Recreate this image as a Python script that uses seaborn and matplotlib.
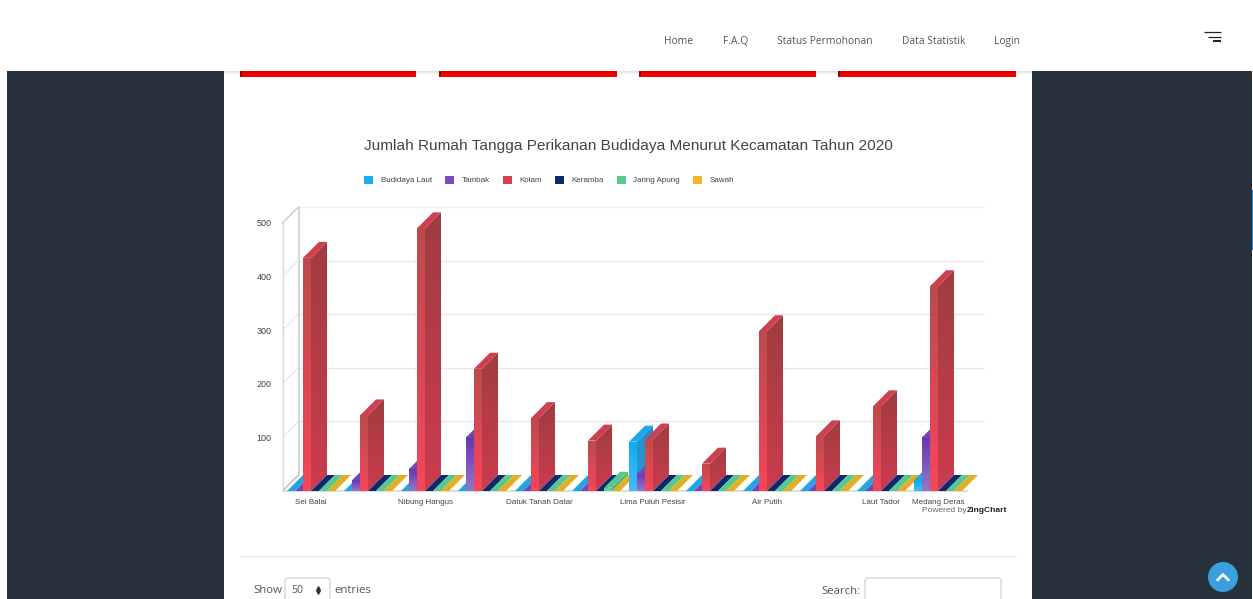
import numpy as np
import pandas as pd
import matplotlib
matplotlib.use('Agg')
import matplotlib.pyplot as plt
from matplotlib.colors import to_rgb
from matplotlib.patches import Polygon, Rectangle, Circle, FancyBboxPatch
import seaborn as sns

# data
kecamatan = list(range(12))
tick_labels = ['Sei Balai', '', 'Nibung Hangus', '', 'Datuk Tanah Datar', '',
               'Lima Puluh Pesisir', '', 'Air Putih', '', 'Laut Tador', 'Medang Deras']
budidaya_laut = [0, 0, 0, 0, 0, 0, 92, 0, 0, 0, 0, 20]
tambak = [0, 20, 41, 100, 0, 0, 32, 0, 0, 0, 0, 100]
kolam = [435, 141, 490, 228, 136, 94, 96, 51, 298, 102, 158, 382]
keramba = [0, 0, 0, 0, 0, 0, 0, 0, 0, 0, 0, 0]
jaring_apung = [0, 0, 0, 0, 0, 6, 0, 0, 0, 0, 0, 0]
sawah = [0, 0, 0, 0, 0, 0, 0, 0, 0, 0, 0, 0]
series_names = ['Budidaya Laut', 'Tambak', 'Kolam', 'Keramba', 'Jaring Apung', 'Sawah']
series_values = [budidaya_laut, tambak, kolam, keramba, jaring_apung, sawah]
y_ticks = [100, 200, 300, 400, 500]

# legend colour, front top, front bottom, side top, side bottom, top face
colors = {
    'Budidaya Laut': ['#19aeef', '#0fa9f2', '#45bcf2', '#1f8fcb', '#23a0dc', '#1ea6e6'],
    'Tambak': ['#7a4cc0', '#6438b4', '#9476c8', '#52308f', '#6a4aa8', '#7446b6'],
    'Kolam': ['#d9404f', '#bb4b4c', '#f4465c', '#a03d41', '#cc3b4e', '#cf3f50'],
    'Keramba': ['#0b2a6e', '#0b2a6e', '#0b2a6e', '#0a2560', '#0a2560', '#0b2a6e'],
    'Jaring Apung': ['#55cb92', '#4cc98d', '#6ad6a0', '#45ad7c', '#45ad7c', '#58c890'],
    'Sawah': ['#f5b52a', '#e3ae20', '#e8b838', '#c99a1c', '#c99a1c', '#e3ae20'],
}

sns.set_theme(style='white')
plt.rcParams['font.family'] = ['Liberation Sans', 'DejaVu Sans']

W, H = 1253, 599
fig = plt.figure(figsize=(W / 100, H / 100), dpi=100, facecolor='white')

# the web page around the chart, in pixels
page = fig.add_axes([0, 0, 1, 1], zorder=0)
page.set_xlim(0, W)
page.set_ylim(H, 0)
page.axis('off')
page.add_patch(Rectangle((7, 71), 1245, H - 71, color='#27313b', lw=0))
page.add_patch(Rectangle((224, 71), 808, H - 71, color='white', lw=0))
page.add_patch(Rectangle((1252, 190), 1, 60, color='#2f7fd0', lw=0))
for y, a in zip([71, 72, 73], [0.10, 0.06, 0.03]):
    page.plot([224, 1032], [y, y], color='black', alpha=a, lw=1)
for x0, x1 in [(240, 416), (439, 617), (639, 816), (838, 1016)]:
    page.add_patch(Rectangle((x0, 71), x1 - x0, 5.5, color='#fa0000', lw=0))
    page.add_patch(Rectangle((x0, 71), 1.5, 5.5, color='#8a0a0a', lw=0))
page.plot([240, 1016], [555.5, 555.5], color='#e6e6e6', lw=1)

nav_font = ['Open Sans', 'DejaVu Sans']
for label, x in [('Home', 664), ('F.A.Q', 723), ('Status Permohonan', 777),
                 ('Data Statistik', 902), ('Login', 994)]:
    page.text(x, 44, label, fontsize=7.4, color='#555555', family=nav_font, va='baseline')
for x0, y, lw in [(1204, 32, 0.9), (1208, 36.5, 0.9), (1213, 41, 1.5)]:
    page.plot([x0, 1221], [y, y], color='#222222', lw=lw, solid_capstyle='butt')

page.text(253.5, 593, 'Show', fontsize=8.2, color='#555555', family=nav_font, va='baseline')
page.add_patch(FancyBboxPatch((285, 578), 45, 32, boxstyle='round,pad=0,rounding_size=3',
                              fc='white', ec='#cccccc', lw=0.8))
page.text(291, 593, '50', fontsize=7.6, color='#555555', family=nav_font, va='baseline')
page.plot([318], [587.5], marker='^', ms=2.6, color='#333333', lw=0)
page.plot([318], [591.5], marker='v', ms=2.6, color='#333333', lw=0)
page.text(334, 593, 'entries', fontsize=8.2, color='#555555', family=nav_font, va='baseline')
page.text(821.5, 594, 'Search:', fontsize=8.2, color='#555555', family=nav_font, va='baseline')
page.add_patch(FancyBboxPatch((865, 578), 136, 32, boxstyle='round,pad=0,rounding_size=3',
                              fc='white', ec='#cccccc', lw=0.8))
page.add_patch(Circle((1223, 577), 15, color='#3a9fdd', lw=0))
page.plot([1217.5, 1223, 1228.5], [580, 574.5, 580], color='white', lw=2.0)

page.text(628, 146, 'Jumlah Rumah Tangga Perikanan Budidaya Menurut Kecamatan Tahun 2020',
          fontsize=11.07, color='#444444', ha='center', va='center')
page.text(1007, 510, 'ZingChart', fontsize=6.0, color='#222222', fontweight='bold',
          ha='right', va='center')
page.text(966.5, 510, 'Powered by', fontsize=6.0, color='#666666', ha='right', va='center')

# chart axes: floor front is y=491, category spacing 57 px, depth 16 px
left, right, bottom, top = 282.5, 984, 491, 207
px_per_cat = 57
px_per_unit = 0.536
dx = 16 / px_per_cat
dy = 16 / px_per_unit
ax = fig.add_axes([left / W, (H - bottom) / H, (right - left) / W, (bottom - top) / H], zorder=1)
ax.patch.set_alpha(0)

df = pd.DataFrame({'kecamatan': kecamatan * 6,
                   'seri': np.repeat(series_names, 12),
                   'nilai': np.concatenate(series_values)})
sns.barplot(data=df, x='kecamatan', y='nilai', hue='seri', hue_order=series_names,
            order=kecamatan, palette=[colors[s][0] for s in series_names],
            width=48 / 57, gap=0, legend=False, ax=ax, linewidth=0, errorbar=None)
xlim = (-0.5, -0.5 + (right - left) / px_per_cat)
ylim = (0, (bottom - top) / px_per_unit)

# back wall and floor
for v in y_ticks:
    c = '#f2f2f2' if v == 500 else '#e8e8e8'
    ax.plot([xlim[0] + dx, xlim[1]], [v + dy, v + dy], color=c, lw=1, zorder=1, clip_on=False)
    ax.plot([xlim[0], xlim[0] + dx], [v, v + dy], color='#e8e8e8', lw=1, zorder=1)
ax.plot([xlim[0], xlim[0] + dx], [500, 500 + dy], color='#cfcfcf', lw=1, zorder=2, clip_on=False)
ax.plot([xlim[0], xlim[0]], [0, 500], color='#d8d8d8', lw=1, zorder=2, clip_on=False)
ax.plot([xlim[0] + dx, xlim[0] + dx], [dy, 500 + dy], color='#cfcfcf', lw=1.2, zorder=2, clip_on=False)
ax.plot([xlim[0], xlim[0] + dx], [0, dy], color='#bbbbbb', lw=1, zorder=2)
ax.plot([xlim[0], xlim[0] + 12], [0, 0], color='#dddddd', lw=1.5, zorder=2, clip_on=False)


def shade(verts, c_top, c_bottom, z):
    # vertical gradient clipped to a polygon
    verts = np.array(verts)
    grad = np.linspace(to_rgb(c_top), to_rgb(c_bottom), 64)[:, None, :]
    im = ax.imshow(grad, aspect='auto', zorder=z, interpolation='bilinear',
                   extent=(verts[:, 0].min(), verts[:, 0].max(), verts[:, 1].min(), verts[:, 1].max()))
    clip = Polygon(verts, transform=ax.transData, fc='none', ec='none')
    im.set_clip_path(clip)


# 3D faces on top of the bars seaborn placed, left to right
for j, name in enumerate(series_names):
    for i in range(12):
        bar = ax.patches[j * 12 + i]
        x0, w, h = bar.get_x(), bar.get_width(), bar.get_height()
        x1 = x0 + w
        col = colors[name]
        z = 10 + i * 10 + j
        bar.set_zorder(z)
        if h > 0:
            shade([(x0, 0), (x1, 0), (x1, h), (x0, h)], col[1], col[2], z)
            shade([(x1, 0), (x1 + dx, dy), (x1 + dx, h + dy), (x1, h)], col[3], col[4], z)
        ax.add_patch(Polygon([(x0, h), (x1, h), (x1 + dx, h + dy), (x0 + dx, h + dy)],
                             fc=col[5], ec='none', zorder=z))

ax.set_xlim(xlim)
ax.set_ylim(ylim)
sns.despine(ax=ax, left=True, bottom=True)
ax.set_xlabel('')
ax.set_ylabel('')
ax.set_yticks(y_ticks)
ax.set_xticks(kecamatan)
ax.set_xticklabels(tick_labels)
ax.tick_params(axis='y', length=0, pad=8, labelsize=6.5, labelcolor='#444444')
ax.tick_params(axis='x', length=0, pad=6, labelsize=5.75, labelcolor='#444444')

handles = [Rectangle((0, 0), 1, 1, color=colors[s][0], lw=0) for s in series_names]
leg = fig.legend(handles, series_names, ncol=6, frameon=False, fontsize=5.8,
                 handlelength=1.12, handleheight=1.12, handletextpad=0.95,
                 columnspacing=1.6, borderaxespad=0, borderpad=0,
                 loc='center', bbox_to_anchor=(549 / W, (H - 180) / H))
for t in leg.get_texts():
    t.set_color('#444444')

fig.savefig('out.png', dpi=100)
